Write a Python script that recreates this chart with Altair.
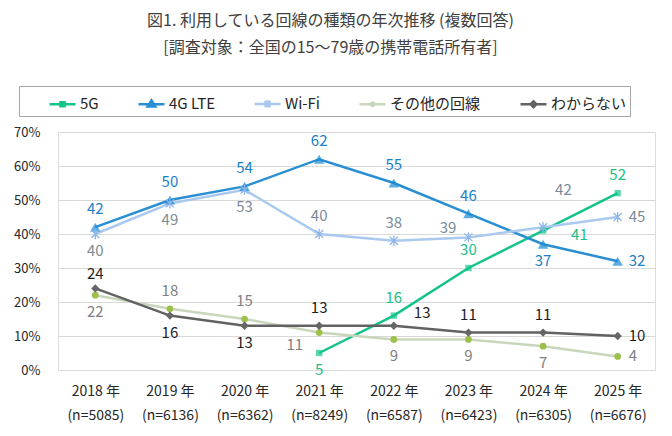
import pandas as pd
import altair as alt

years = ['2018 年', '2019 年', '2020 年', '2021 年', '2022 年', '2023 年', '2024 年', '2025 年']
n_sizes = ['(n=5085)', '(n=6136)', '(n=6362)', '(n=8249)', '(n=6587)', '(n=6423)', '(n=6305)', '(n=6676)']

series = ['5G', '4G LTE', 'Wi-Fi', 'その他の回線', 'わからない']

g5 = [None, None, None, 5, 16, 30, 41, 52]
lte = [42, 50, 54, 62, 55, 46, 37, 32]
wifi = [40, 49, 53, 40, 38, 39, 42, 45]
other = [22, 18, 15, 11, 9, 9, 7, 4]
unknown = [24, 16, 13, 13, 13, 11, 11, 10]

# label placement next to each point (a=above, b=below, r=right ...)
g5_pos = [None, None, None, 'b', 'a', 'a', 'rr', 'a']
lte_pos = ['a', 'a', 'a', 'a', 'a', 'a', 'b', 'r']
wifi_pos = ['b', 'b', 'b', 'a', 'a', 'al', 'au', 'r']
other_pos = ['b', 'a', 'a', 'l', 'b', 'b', 'b', 'r']
unknown_pos = ['as', 'b', 'b', 'a', 'ar', 'a', 'a', 'r']

x_order = [y + '|' + n for y, n in zip(years, n_sizes)]

rows = []
for name, vals, pos in zip(series, [g5, lte, wifi, other, unknown],
                           [g5_pos, lte_pos, wifi_pos, other_pos, unknown_pos]):
    for i, v in enumerate(vals):
        if v is None:
            continue
        rows.append({'x': x_order[i], 'series': name, 'value': v,
                     'label': str(v), 'pos': pos[i]})
df = pd.DataFrame(rows)

FONT = 'Noto Sans CJK JP'
line_colors = ['#12c48b', '#2a8fd2', '#a9c9ef', '#c9d6bb', '#626262']
marker_colors = ['#12c48b', '#1a8ad4', '#8fb5e8', '#9cc04a', '#666666']
label_colors = ['#1bbf86', '#1a80c8', '#7b8b98', '#7f7f7f', '#1f1f1f']

legend_paths = [
    'M-1,0H1M-0.16,-0.16H0.16V0.16H-0.16Z',
    'M-1,0H1M0,-0.3L0.3,0.18H-0.3Z',
    'M-1,0H1M-0.22,-0.22L0.22,0.22M-0.22,0.22L0.22,-0.22M0,-0.28V0.28',
    'M-1,0H1M-0.13,0A0.13,0.13,0,1,1,0.13,0A0.13,0.13,0,1,1,-0.13,0Z',
    'M-1,0H1M0,-0.22L0.22,0L0,0.22L-0.22,0Z',
]
leg = alt.Legend(orient='none', legendX=-39, legendY=-46, direction='horizontal', columns=5,
                 title='\u00a0', titleOrient='left', titlePadding=26, titleFontSize=14,
                 padding=3, columnPadding=34, strokeColor='#a6a6a6',
                 labelFontSize=15, labelColor='#262626', labelFont=FONT, labelOffset=3,
                 symbolSize=676, symbolStrokeWidth=2.5, symbolOpacity=1)

base = alt.Chart(df).encode(
    x=alt.X('x:N', sort=x_order, scale=alt.Scale(type='point', padding=0.5),
            axis=alt.Axis(title=None, labelExpr="split(datum.label, '|')", labelAngle=0,
                          domain=False, ticks=False, grid=False, labelPadding=14,
                          labelFontSize=14, labelColor='#262626', labelLineHeight=24,
                          labelFont=FONT)),
    y=alt.Y('value:Q', scale=alt.Scale(domain=[0, 70], nice=False),
            axis=alt.Axis(title=None, values=[0, 10, 20, 30, 40, 50, 60, 70],
                          labelExpr="datum.value + '%'", domain=False, ticks=False,
                          gridColor='#d9d9d9', gridWidth=1, labelPadding=18,
                          labelFontSize=13, labelColor='#262626', labelFont=FONT))
)

stroke_enc = alt.Stroke('series:N', scale=alt.Scale(domain=series, range=line_colors), legend=leg)

lines = base.mark_line(strokeWidth=2.5).encode(stroke=stroke_enc)

asterisk = 'M-1,-1L1,1M-1,1L1,-1M0,-1.3V1.3'
point_styles = {
    '5G': dict(shape='square', size=40, filled=True, color=marker_colors[0]),
    '4G LTE': dict(shape='triangle-up', size=110, filled=True, color=marker_colors[1]),
    'Wi-Fi': dict(shape=asterisk, size=64, filled=False, color=marker_colors[2], strokeWidth=1.3, opacity=1),
    'その他の回線': dict(shape='circle', size=45, filled=True, color=marker_colors[3], opacity=1),
    'わからない': dict(shape='diamond', size=70, filled=True, color=marker_colors[4], opacity=1),
}
points = [base.transform_filter(alt.datum.series == s).mark_point(**st)
          for s, st in point_styles.items()]

label_styles = {
    'a': dict(dy=-18, align='center'),
    'as': dict(dy=-14, align='center'),
    'b': dict(dy=17, align='center'),
    'r': dict(dx=11, align='left'),
    'rr': dict(dx=28, dy=4, align='left'),
    'l': dict(dx=-16, dy=12, align='right'),
    'al': dict(dx=-12, dy=-9, align='right'),
    'ar': dict(dx=20, dy=-13, align='left'),
    'au': dict(dx=12, dy=-37, align='left'),
}
labels = [base.transform_filter(alt.datum.pos == p).mark_text(
              baseline='middle', fontSize=15, font=FONT, **st).encode(
              text='label:N',
              color=alt.Color('series:N', scale=alt.Scale(domain=series, range=label_colors), legend=None))
          for p, st in label_styles.items()]

# legend entries only: line with marker symbols, no marks drawn
legend_layer = base.transform_filter('false').mark_point(size=676, strokeWidth=2.5, opacity=1).encode(
    fill=alt.Fill('series:N', scale=alt.Scale(domain=series, range=marker_colors), legend=leg),
    stroke=stroke_enc,
    shape=alt.Shape('series:N', scale=alt.Scale(domain=series, range=legend_paths), legend=leg),
)

chart = alt.layer(lines, *points, *labels, legend_layer).properties(
    width=597, height=238,
    autosize=alt.AutoSizeParams(type='none'),
    padding={'left': 50, 'top': 124, 'right': 9, 'bottom': 58},
    title=alt.TitleParams(
        text=['図1. 利用している回線の種類の年次推移 (複数回答)', '[調査対象：全国の15～79歳の携帯電話所有者]'],
        fontSize=16, fontWeight='normal', color='#404040', lineHeight=27,
        anchor='middle', dx=-26, offset=30, font=FONT),
).configure_view(stroke=None).configure(font=FONT, background='white')

chart.save('out.html', embed_options={'renderer': 'svg', 'actions': False})
